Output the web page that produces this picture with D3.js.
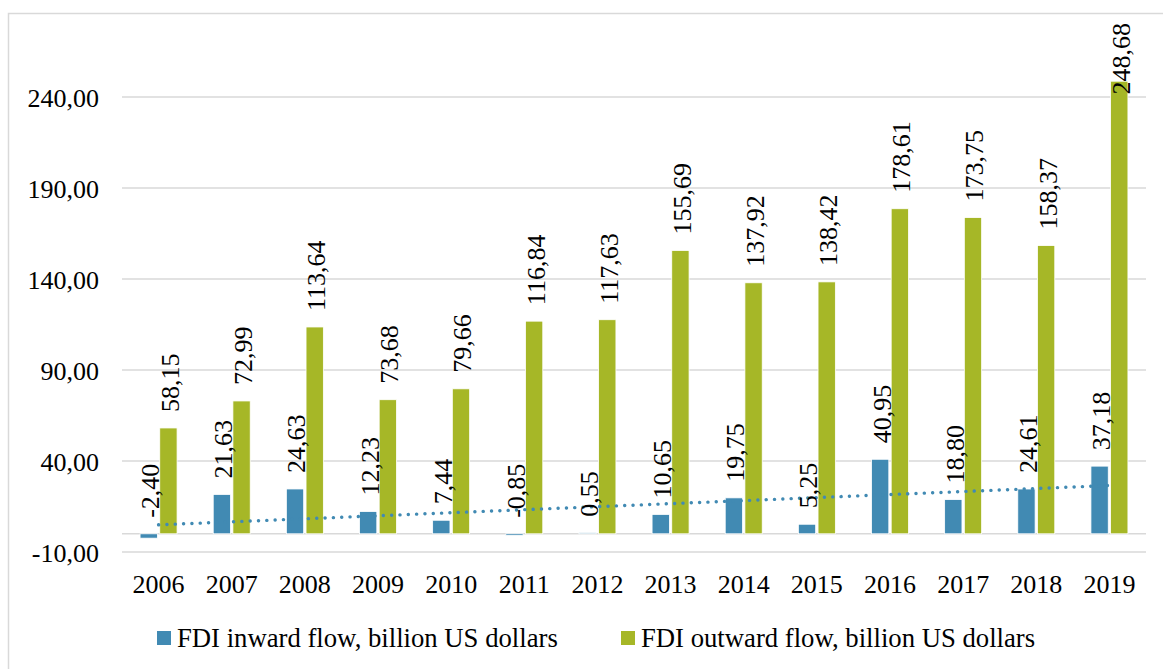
<!DOCTYPE html>
<html>
<head>
<meta charset="utf-8">
<script src="https://cdn.jsdelivr.net/npm/d3@7"></script>
<style>
  html, body { margin: 0; padding: 0; background: #fff; }
  svg { display: block; }
  text { font-family: "Liberation Serif", "Times New Roman", serif; fill: #000; }
</style>
</head>
<body>
<svg id="chart" width="1163" height="669"></svg>
<script>
// FDI flows by year, billion US dollars
const years = ["2006","2007","2008","2009","2010","2011","2012","2013","2014","2015","2016","2017","2018","2019"];
const inward = [-2.40, 21.63, 24.63, 12.23, 7.44, -0.85, 0.55, 10.65, 19.75, 5.25, 40.95, 18.80, 24.61, 37.18];
const outward = [58.15, 72.99, 113.64, 73.68, 79.66, 116.84, 117.63, 155.69, 137.92, 138.42, 178.61, 173.75, 158.37, 248.68];
const yTicks = [-10, 40, 90, 140, 190, 240];
const seriesNames = ["FDI inward flow, billion US dollars", "FDI outward flow, billion US dollars"];
const seriesColors = ["#418ab3", "#a6b727"];

const svg = d3.select("#chart");
const fmt = v => v.toFixed(2).replace(".", ",");

// outer frame
svg.append("rect")
  .attr("x", 8.5).attr("y", 13.5).attr("width", 1170).attr("height", 680)
  .attr("fill", "none").attr("stroke", "#d9d9d9").attr("stroke-width", 1.5);

const x = d3.scaleBand().domain(years).range([122, 1146]).padding(0);
const bw = x.bandwidth();
const x1 = d3.scaleBand().domain([0, 1]).range([bw / 2 - 18.5, bw / 2 + 18.5]).paddingInner(0.12);
const y = d3.scaleLinear().domain([-10, 240]).range([552, 97]);

// gridlines
svg.append("g")
  .selectAll("line").data(yTicks).join("line")
  .attr("x1", 122).attr("x2", 1146)
  .attr("y1", d => y(d)).attr("y2", d => y(d))
  .attr("stroke", "#d9d9d9").attr("stroke-width", 1.5);

// y axis labels
const yAxis = svg.append("g").attr("transform", "translate(99,0)")
  .call(d3.axisLeft(y).tickValues(yTicks).tickFormat(fmt).tickSize(0).tickPadding(0));
yAxis.select(".domain").remove();
yAxis.selectAll("text").style("font-size", "26px").style("font-family", "Liberation Serif").attr("dy", "0.35em");

// zero axis line
svg.append("line")
  .attr("x1", 122).attr("x2", 1146).attr("y1", y(0)).attr("y2", y(0))
  .attr("stroke", "#d9d9d9").attr("stroke-width", 1.5);

// x axis labels
const xAxis = svg.append("g").attr("transform", "translate(0,584)")
  .call(d3.axisBottom(x).tickSize(0).tickPadding(0));
xAxis.select(".domain").remove();
xAxis.selectAll("text").style("font-size", "26px").style("font-family", "Liberation Serif").attr("dy", "0.35em").attr("y", 0);

const data = [];
years.forEach((yr, i) => {
  data.push({ year: yr, s: 0, v: inward[i] });
  data.push({ year: yr, s: 1, v: outward[i] });
});

// bars
svg.append("g")
  .selectAll("rect").data(data).join("rect")
  .attr("x", d => x(d.year) + x1(d.s))
  .attr("width", x1.bandwidth())
  .attr("y", d => y(Math.max(0, d.v)))
  .attr("height", d => Math.abs(y(d.v) - y(0)))
  .attr("fill", d => seriesColors[d.s])
  .attr("stroke", "#ffffff").attr("stroke-width", 0.8);

// linear trend of inward flow
const n = inward.length;
const mx = d3.mean(d3.range(n));
const my = d3.mean(inward);
const slope = d3.sum(d3.range(n), i => (i - mx) * (inward[i] - my)) / d3.sum(d3.range(n), i => (i - mx) ** 2);
const icpt = my - slope * mx;
const trend = [0, n - 1].map(i => ({ year: years[i], v: icpt + slope * i }));
svg.append("path")
  .datum(trend)
  .attr("d", d3.line().x(d => x(d.year) + bw / 2).y(d => y(d.v)))
  .attr("fill", "none")
  .attr("stroke", seriesColors[0])
  .attr("stroke-width", 3.4)
  .attr("stroke-linecap", "round")
  .attr("stroke-dasharray", "0.1 8.23");

// value labels, rotated; kept inside the frame at the top
const labels = svg.append("g")
  .selectAll("text").data(data).join("text")
  .attr("text-anchor", "start")
  .attr("dy", "0.4em")
  .style("font-size", "26px")
  .text(d => fmt(d.v));
labels.each(function (d) {
  const len = this.getComputedTextLength();
  const cx = x(d.year) + x1(d.s) + x1.bandwidth() / 2;
  let start = y(Math.max(0, d.v)) - 16;
  start = Math.max(start, 23 + len);
  d3.select(this).attr("transform", `translate(${cx},${start}) rotate(-90)`);
});

// legend
const legendX = [157, 621];
const lg = svg.append("g").selectAll("g").data(seriesNames).join("g")
  .attr("transform", (d, i) => `translate(${legendX[i]},631)`);
lg.append("rect").attr("width", 14).attr("height", 14).attr("fill", (d, i) => seriesColors[i]);
lg.append("text").attr("x", 20).attr("y", 7).attr("dy", "0.35em")
  .style("font-size", "26.7px").text(d => d);
</script>
</body>
</html>
